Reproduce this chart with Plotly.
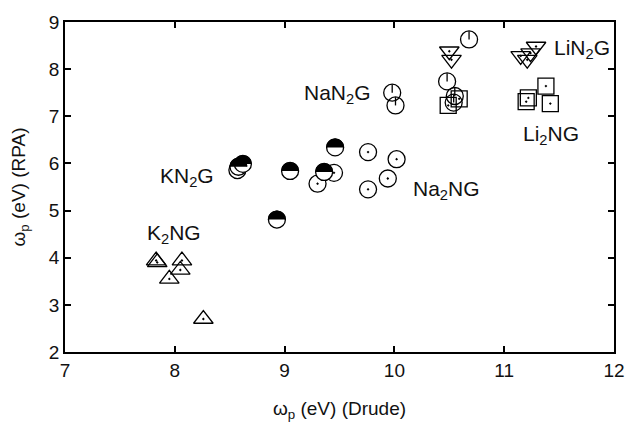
import numpy as np
import plotly.graph_objects as go

# ---- data (Drude, RPA) ----
k2ng_x = [7.83, 7.84, 8.065, 8.05, 7.95, 8.26]
k2ng_y = [3.94, 3.90, 3.94, 3.74, 3.55, 2.70]

kn2g_x = [8.58, 8.62, 9.05, 9.36, 9.46, 8.93]
kn2g_y = [5.93, 5.99, 5.84, 5.82, 6.34, 4.81]

na2ng_x = [8.57, 9.30, 9.45, 9.76, 10.02, 9.94, 9.76]
na2ng_y = [5.86, 5.57, 5.80, 6.24, 6.09, 5.68, 5.45]

nan2g_x = [9.98, 10.01, 10.48, 10.68, 10.55, 10.54]
nan2g_y = [7.50, 7.23, 7.74, 8.63, 7.43, 7.29]

li2ng_x = [11.38, 11.22, 11.20, 11.42, 10.59, 10.49]
li2ng_y = [7.64, 7.39, 7.31, 7.27, 7.37, 7.23]

lin2g_x = [10.50, 10.52, 11.29, 11.24, 11.21, 11.15]
lin2g_y = [8.38, 8.20, 8.48, 8.34, 8.20, 8.28]

labels = ["K<sub>2</sub>NG", "KN<sub>2</sub>G", "NaN<sub>2</sub>G", "Na<sub>2</sub>NG", "LiN<sub>2</sub>G", "Li<sub>2</sub>NG"]
label_x = [7.99, 8.11, 9.48, 10.47, 11.71, 11.43]
label_y = [4.50, 5.72, 7.48, 5.43, 8.43, 6.61]

x_range = [7, 12]
y_range = [2, 9]
x_ticks = [7, 8, 9, 10, 11, 12]
y_ticks = [2, 3, 4, 5, 6, 7, 8, 9]

W, H = 637, 436
ML, MR, MT, MB = 65, 18, 13, 84
px_x = (W - ML - MR) / (x_range[1] - x_range[0])
px_y = (H - MT - MB) / (y_range[1] - y_range[0])

MS = 17
R = MS / 2.0
LW = 1.3
FONT = "Liberation Sans, Arial, sans-serif"

fig = go.Figure()

line = dict(color="black", width=LW)

# K2NG: up triangles
fig.add_trace(go.Scatter(x=k2ng_x, y=k2ng_y, mode="markers",
                         marker=dict(symbol="triangle-up-open-dot", size=MS, line=line, color="black")))
# LiN2G: down triangles
fig.add_trace(go.Scatter(x=lin2g_x, y=lin2g_y, mode="markers",
                         marker=dict(symbol="triangle-down-open-dot", size=MS, line=line, color="black")))
# Li2NG: squares
fig.add_trace(go.Scatter(x=li2ng_x, y=li2ng_y, mode="markers",
                         marker=dict(symbol="square-open-dot", size=MS - 1, line=line, color="black")))
# Na2NG: open circles with dot
fig.add_trace(go.Scatter(x=na2ng_x, y=na2ng_y, mode="markers",
                         marker=dict(symbol="circle-open-dot", size=MS, line=line, color="black")))
# NaN2G: open circles with a vertical radius line
fig.add_trace(go.Scatter(x=nan2g_x, y=nan2g_y, mode="markers",
                         marker=dict(symbol="circle-open", size=MS, line=line, color="black"),
                         error_y=dict(type="data", symmetric=False,
                                      array=[R / px_y] * len(nan2g_x),
                                      arrayminus=[0] * len(nan2g_x),
                                      width=0, thickness=LW, color="black")))
# KN2G: half-filled circles (white base + black upper half)
fig.add_trace(go.Scatter(x=kn2g_x, y=kn2g_y, mode="markers",
                         marker=dict(symbol="circle", size=MS, color="white", line=line)))
t = np.linspace(0, np.pi, 30)
hx, hy = [], []
for cx, cy in zip(kn2g_x, kn2g_y):
    hx += list(cx + (R / px_x) * np.cos(t)) + [None]
    hy += list(cy + (R / px_y) * np.sin(t)) + [None]
fig.add_trace(go.Scatter(x=hx, y=hy, mode="lines", fill="toself", fillcolor="black",
                         line=dict(color="black", width=LW), hoverinfo="skip"))

for txt, lx, ly in zip(labels, label_x, label_y):
    fig.add_annotation(x=lx, y=ly, text=txt, showarrow=False,
                       font=dict(family=FONT, size=21, color="#111"))

axis_common = dict(showgrid=False, zeroline=False, showline=True, linecolor="black",
                   linewidth=1.5, mirror="ticks", ticks="inside", ticklen=6,
                   tickwidth=1.5, tickcolor="black",
                   tickfont=dict(family=FONT, size=19, color="#111"))

fig.update_layout(
    width=W, height=H,
    margin=dict(l=ML, r=MR, t=MT, b=MB),
    plot_bgcolor="white", paper_bgcolor="white",
    showlegend=False,
    xaxis=dict(range=x_range, tickvals=x_ticks, **axis_common,
               title=dict(text="ω<sub>p</sub> (eV) (Drude)", font=dict(family=FONT, size=19, color="#111"),
                          standoff=22)),
    yaxis=dict(range=y_range, tickvals=y_ticks, **axis_common,
               title=dict(text="ω<sub>p</sub> (eV) (RPA)", font=dict(family=FONT, size=19, color="#111"),
                          standoff=18)),
)

fig.write_html("out.html")
